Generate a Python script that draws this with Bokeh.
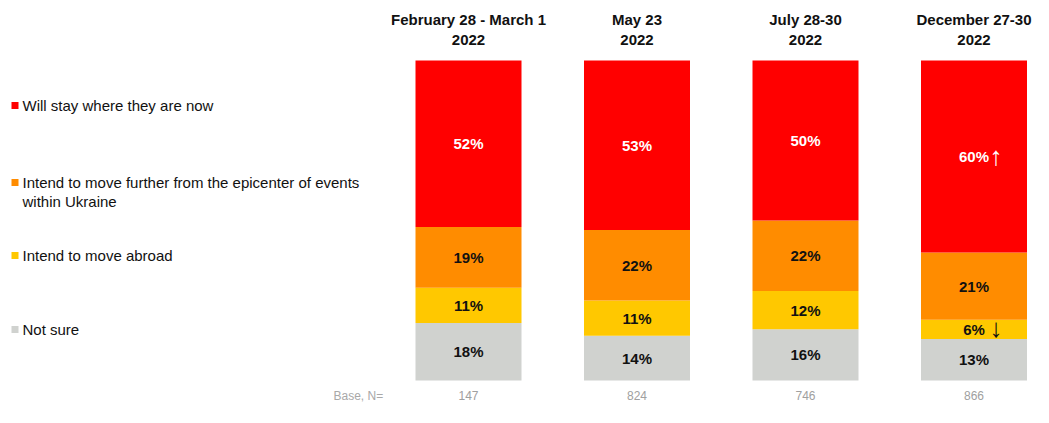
from bokeh.plotting import figure
from bokeh.models import Range1d, ColumnDataSource, Label, BoxAnnotation
from bokeh.core.properties import value
from bokeh.embed import file_html
from bokeh.resources import INLINE

# ---- data ----
periods = ["February 28 - March 1\n2022", "May 23\n2022", "July 28-30\n2022", "December 27-30\n2022"]
base_n = ["147", "824", "746", "866"]
series_names = ["Will stay where they are now",
                "Intend to move further from the epicenter of events\nwithin Ukraine",
                "Intend to move abroad",
                "Not sure"]
stay = [52, 53, 50, 60]
further = [19, 22, 22, 21]
abroad = [11, 11, 12, 6]
not_sure = [18, 14, 16, 13]
stay_change = ["", "", "", "up"]
abroad_change = ["", "", "", "down"]

colors = ["#FF0000", "#FF8C00", "#FFC800", "#D0D2CF"]
FONT = "Liberation Sans"

W, H = 1033, 407
# layout in pixels (figure coords)
x0_px, step_px, bar_px = 468.0, 168.5, 106.0
top_px, bot_px = 60.0, 380.0
ppu_y = (bot_px - top_px) / 100.0

xs = list(range(len(periods)))
x_start = -x0_px / step_px
x_end = x_start + W / step_px
y_start = -(H - bot_px) / ppu_y
y_end = 100 + top_px / ppu_y

p = figure(width=W, height=H, output_backend="svg", toolbar_location=None,
           x_range=Range1d(x_start, x_end), y_range=Range1d(y_start, y_end),
           min_border=0)
p.axis.visible = False
p.grid.visible = False
p.outline_line_color = None
p.background_fill_color = "white"

# stacked bars, bottom -> top
layers = [(not_sure, colors[3], "#111111"), (abroad, colors[2], "#111111"),
          (further, colors[1], "#111111"), (stay, colors[0], "white")]
bottom = [0] * len(xs)
bw = bar_px / step_px
for vals, col, tcol in layers:
    top = [b + v for b, v in zip(bottom, vals)]
    src = ColumnDataSource(dict(x=xs, bottom=bottom, top=top,
                                mid=[(b + t) / 2 for b, t in zip(bottom, top)],
                                lab=[f"{v}%" for v in vals]))
    p.vbar(x="x", bottom="bottom", top="top", width=bw, source=src,
           fill_color=col, line_color=None)
    p.text(x="x", y="mid", text="lab", source=src, text_align="center",
           text_baseline="middle", text_color=tcol, text_font=value(FONT),
           text_font_style="bold", text_font_size="15px")
    bottom = top

# change arrows
def arrows(vals, bottoms, changes, col):
    ax, ay, at = [], [], []
    for i, ch in enumerate(changes):
        if ch:
            ax.append(xs[i])
            ay.append(bottoms[i] + vals[i] / 2)
            at.append("\u2191" if ch == "up" else "\u2193")
    p.text(x=ax, y=ay, text=at, text_align="center", text_baseline="middle",
           x_offset=22, y_offset=-1, text_color=col, text_font=value(FONT),
           text_font_size="26px")

b_stay = [n + a + f for n, a, f in zip(not_sure, abroad, further)]
arrows(stay, b_stay, stay_change, "white")
arrows(abroad, not_sure, abroad_change, "#111111")

# period headers
p.text(x=xs, y=[100] * len(xs), text=periods, text_align="center",
       text_baseline="middle", y_offset=-31, text_color="#111111",
       text_font=value(FONT), text_font_style="bold", text_font_size="15px",
       text_line_height=1.2)

# base row
p.text(x=xs, y=[0] * len(xs), text=base_n, text_align="center",
       text_baseline="middle", y_offset=15, text_color="#A0A0A0",
       text_font=value(FONT), text_font_size="12px")
p.add_layout(Label(x=(333 - x0_px) / step_px, y=0, y_offset=-15,
                   text="Base, N=", text_align="left", text_baseline="middle",
                   text_color="#A8A8A8", text_font=FONT, text_font_size="12px"))

# legend
leg_y = [105, 182, 255, 329]  # pixels from top (figure coords)
for name, col, yy in zip(series_names, colors, leg_y):
    p.add_layout(BoxAnnotation(left=11, right=18, top=H - yy + 3.5, bottom=H - yy - 3.5,
                               left_units="screen", right_units="screen",
                               top_units="screen", bottom_units="screen",
                               fill_color=col, fill_alpha=1, line_color=None))
    p.add_layout(Label(x=22, y=H - yy, x_units="screen", y_units="screen",
                       text=name, text_align="left", text_baseline="top",
                       y_offset=8.5, text_color="#111111", text_font=FONT,
                       text_font_size="15px", text_line_height=1.1))

open("out.html", "w").write(file_html(p, INLINE))
